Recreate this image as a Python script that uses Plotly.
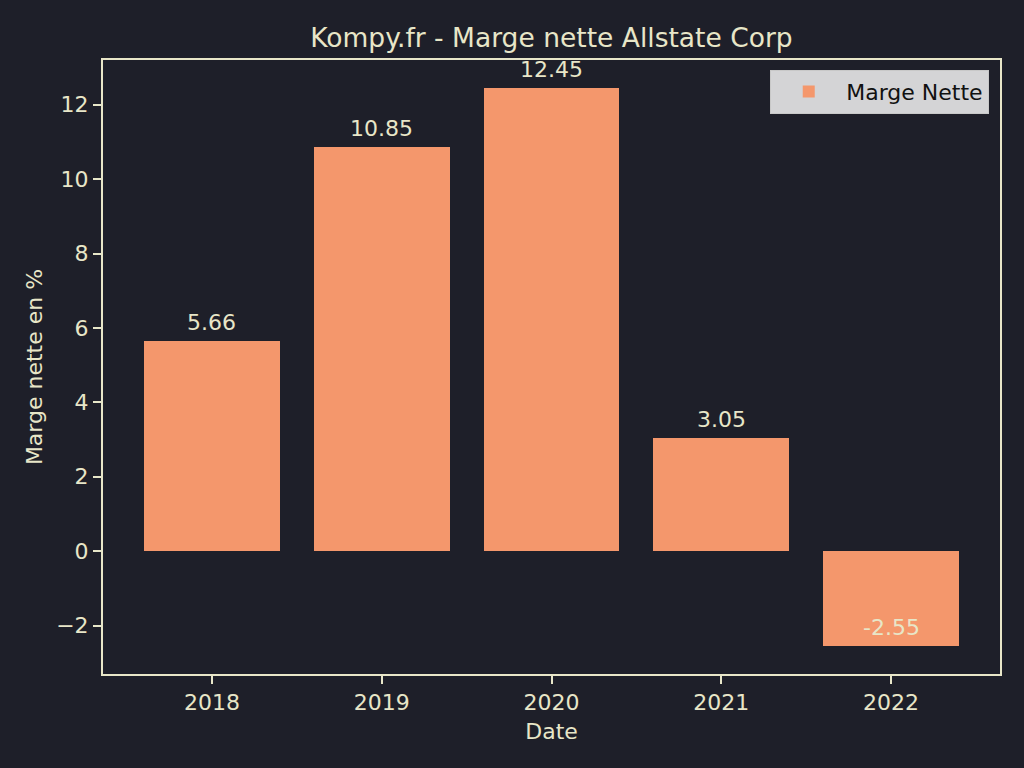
import plotly.graph_objects as go

years = ["2018", "2019", "2020", "2021", "2022"]
marge = [5.66, 10.85, 12.45, 3.05, -2.55]
labels = ["5.66", "10.85", "12.45", "3.05", "-2.55"]

BG = "#1e1f29"
FG = "#e8e6c8"
BAR = "#f4976c"
FONT = "DejaVu Sans"

xpos = list(range(len(years)))

fig = go.Figure()
fig.add_trace(go.Bar(
    x=xpos, y=marge, width=0.8, marker=dict(color=BAR, line=dict(width=0)),
    name="Marge Nette", showlegend=True,
))

for xi, v, t in zip(xpos, marge, labels):
    fig.add_annotation(x=xi, y=v, text=t, showarrow=False, xanchor="center",
                       yanchor="bottom", yshift=4,
                       font=dict(family=FONT, size=22, color=FG))

fig.update_layout(
    width=1024, height=768,
    paper_bgcolor=BG, plot_bgcolor=BG,
    margin=dict(l=103, r=24, t=60, b=94),
    font=dict(family=FONT, size=22, color=FG),
    title=dict(text="Kompy.fr - Marge nette Allstate Corp", x=0.5385, xanchor="center",
               y=0.951, yanchor="middle", font=dict(family=FONT, size=26.5, color=FG)),
    bargap=0,
    legend=dict(x=0.988, xanchor="right", y=0.984, yanchor="top",
                bgcolor="#d4d4d6", bordercolor="#c8c8c8", borderwidth=1,
                itemwidth=65,
                font=dict(family=FONT, size=22, color="#111111")),
    xaxis=dict(range=[-0.642, 4.642], tickvals=xpos, ticktext=years,
               showgrid=False, zeroline=False, showline=True, linecolor=FG, linewidth=2,
               mirror=True, ticks="outside", ticklen=8, tickwidth=1.5, tickcolor=FG,
               tickfont=dict(family=FONT, size=22, color=FG),
               title=dict(text="Date", font=dict(family=FONT, size=22, color=FG), standoff=9)),
    yaxis=dict(range=[-3.3, 13.2], tickvals=[-2, 0, 2, 4, 6, 8, 10, 12],
               showgrid=False, zeroline=False, showline=True, linecolor=FG, linewidth=2,
               mirror=True, ticks="outside", ticklen=8, tickwidth=1.5, tickcolor=FG,
               tickfont=dict(family=FONT, size=22, color=FG),
               title=dict(text="Marge nette en %", font=dict(family=FONT, size=22, color=FG), standoff=7)),
)

fig.write_html("out.html", config={"displayModeBar": False},
               post_script="document.body.style.margin='0';document.body.style.background='#1e1f29';")
